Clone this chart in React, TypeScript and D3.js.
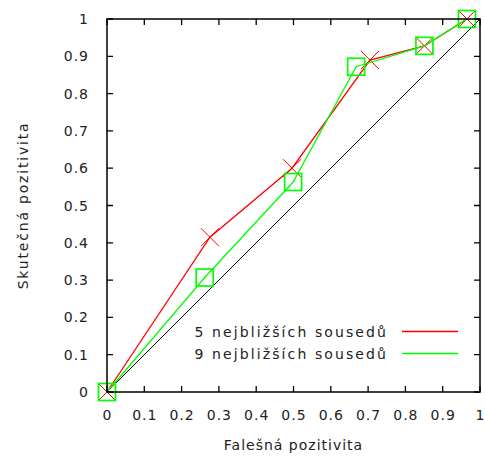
import React from "react";
import * as d3 from "d3";

const ticks = [0, 0.1, 0.2, 0.3, 0.4, 0.5, 0.6, 0.7, 0.8, 0.9, 1];
const tickLabels = ["0", "0.1", "0.2", "0.3", "0.4", "0.5", "0.6", "0.7", "0.8", "0.9", "1"];

// 5 nejbližších sousedů
const fp5 = [0, 0.276, 0.496, 0.705, 0.851, 0.965];
const tp5 = [0, 0.415, 0.6, 0.89, 0.928, 1.0];

// 9 nejbližších sousedů
const fp9 = [0, 0.262, 0.499, 0.668, 0.851, 0.965];
const tp9 = [0, 0.307, 0.563, 0.872, 0.928, 1.0];

const seriesNames = ["5 nejbližších sousedů", "9 nejbližších sousedů"];
const seriesColors = ["#ff0000", "#00ff00"];

const W = 485;
const H = 458;
const margin = { top: 19, right: 5, bottom: 66, left: 107 };
const font = "'DejaVu Sans', Verdana, sans-serif";

export default function App() {
  const x = d3.scaleLinear().domain([0, 1]).range([margin.left, W - margin.right]);
  const y = d3.scaleLinear().domain([0, 1]).range([H - margin.bottom, margin.top]);

  const lineGen = d3
    .line<[number, number]>()
    .x((d) => x(d[0]))
    .y((d) => y(d[1]));

  const red: [number, number][] = fp5.map((v, i) => [v, tp5[i]]);
  const green: [number, number][] = fp9.map((v, i) => [v, tp9[i]]);

  const x0 = x(0), x1 = x(1), y0 = y(0), y1 = y(1);
  const tl = 6;

  return (
    <svg
      width={W}
      height={H}
      style={{ position: "absolute", left: 0, top: 0, background: "#fff" }}
      fontFamily={font}
      fontSize={14}
      letterSpacing={1}
    >
      {/* diagonal */}
      <path d={lineGen([[0, 0], [1, 1]]) || ""} stroke="#000" strokeWidth={1} fill="none" />

      {/* red series */}
      <path d={lineGen(red) || ""} stroke={seriesColors[0]} strokeWidth={1.3} fill="none" />
      {red.map((d, i) => {
        const cx = x(d[0]), cy = y(d[1]), s = 9;
        return (
          <path
            key={"r" + i}
            d={`M${cx - s},${cy - s}L${cx + s},${cy + s}M${cx - s},${cy + s}L${cx + s},${cy - s}`}
            stroke={seriesColors[0]}
            strokeWidth={1}
          />
        );
      })}

      {/* green series */}
      <path d={lineGen(green) || ""} stroke={seriesColors[1]} strokeWidth={1.3} fill="none" />
      {green.map((d, i) => (
        <rect
          key={"g" + i}
          x={x(d[0]) - 8.5}
          y={y(d[1]) - 8.5}
          width={17}
          height={17}
          fill="none"
          stroke={seriesColors[1]}
          strokeWidth={1.7}
        />
      ))}

      {/* frame */}
      <rect x={x0} y={y1} width={x1 - x0} height={y0 - y1} fill="none" stroke="#000" strokeWidth={1.5} />

      {/* ticks */}
      {ticks.map((t, i) => (
        <g key={"t" + i}>
          <path
            d={`M${x(t)},${y0}v${-tl}M${x(t)},${y1}v${tl}M${x0},${y(t)}h${tl}M${x1},${y(t)}h${-tl}`}
            stroke="#000"
            strokeWidth={1.3}
          />
          <text x={x(t) + 0.5} y={420} textAnchor="middle" fill="#222">
            {tickLabels[i]}
          </text>
          <text x={89} y={y(t) + 5} textAnchor="end" fill="#222">
            {tickLabels[i]}
          </text>
        </g>
      ))}

      {/* axis labels */}
      <text x={(x0 + x1) / 2} y={450} textAnchor="middle" fill="#222">
        Falešná pozitivita
      </text>
      <text
        transform={`translate(28,${(y0 + y1) / 2}) rotate(-90)`}
        textAnchor="middle"
        fill="#222"
        letterSpacing={1.8}
      >
        Skutečná pozitivita
      </text>

      {/* legend */}
      {seriesNames.map((name, i) => (
        <g key={"l" + i}>
          <text x={388} y={337 + i * 22} textAnchor="end" fill="#222" letterSpacing={2.1}>
            {name}
          </text>
          <path
            d={`M402,${331.5 + i * 22}H458`}
            stroke={seriesColors[i]}
            strokeWidth={1.7}
            fill="none"
          />
        </g>
      ))}
    </svg>
  );
}
